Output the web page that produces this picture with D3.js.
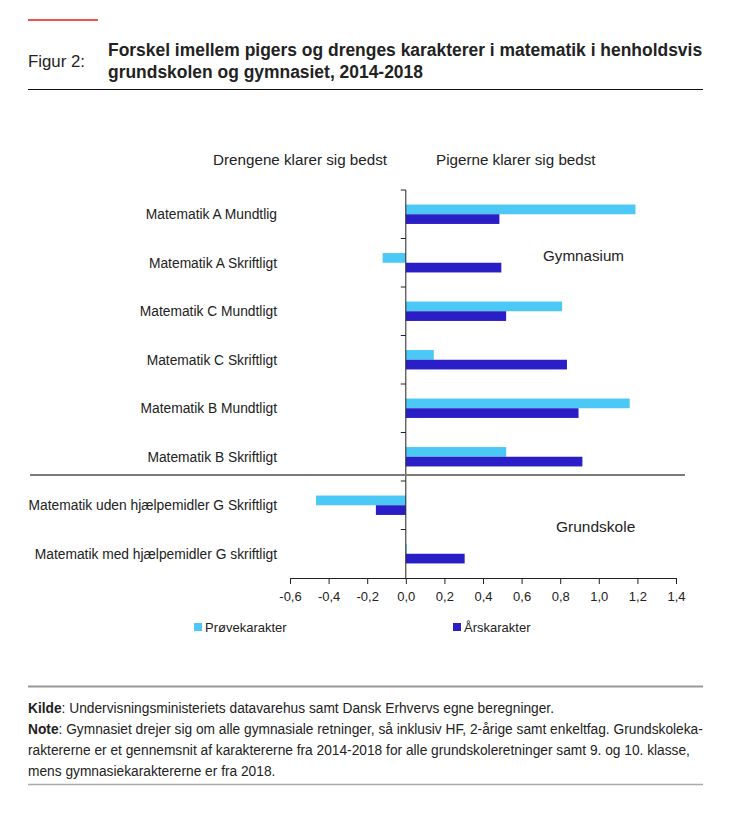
<!DOCTYPE html>
<html>
<head>
<meta charset="utf-8">
<script src="https://cdn.jsdelivr.net/npm/d3@7"></script>
<style>
  body { margin: 0; background: #fff; }
  svg text { font-family: "Liberation Sans", Arial, sans-serif; fill: #222; }
</style>
</head>
<body>
<div id="chart"></div>
<script>
// Data
const categories = [
  "Matematik A Mundtlig",
  "Matematik A Skriftligt",
  "Matematik C Mundtligt",
  "Matematik C Skriftligt",
  "Matematik B Mundtligt",
  "Matematik B Skriftligt",
  "Matematik uden hjælpemidler G Skriftligt",
  "Matematik med hjælpemidler G skriftligt"
];
const provekarakter = [1.19, -0.12, 0.81, 0.145, 1.16, 0.52, -0.465, 0.005];
const aarskarakter  = [0.485, 0.495, 0.52, 0.835, 0.895, 0.915, -0.155, 0.305];
const xTicks = [-0.6, -0.4, -0.2, 0.0, 0.2, 0.4, 0.6, 0.8, 1.0, 1.2, 1.4];
const seriesNames = ["Prøvekarakter", "Årskarakter"];
const colors = ["#4cc8f7", "#2a1ec6"];

const width = 756, height = 813;

const svg = d3.select("#chart").append("svg")
    .attr("width", width)
    .attr("height", height);

// shrink/grow font so a text element spans the wanted width
function fitWidth(sel, target) {
  const node = sel.node();
  const fs = parseFloat(sel.style("font-size"));
  const w = node.getComputedTextLength();
  sel.style("font-size", (fs * target / w).toFixed(2) + "px");
}

// ─── HEADER ────────────────────────────────
svg.append("line")
    .attr("x1", 28).attr("x2", 98).attr("y1", 20).attr("y2", 20)
    .attr("stroke", "#ea5548").attr("stroke-width", 2);

const fig = svg.append("text")
    .attr("x", 28).attr("y", 67)
    .style("font-size", "16px")
    .text("Figur 2:");
fitWidth(fig, 57);

const t1 = svg.append("text")
    .attr("x", 108).attr("y", 56)
    .style("font-size", "16px").style("font-weight", "bold")
    .text("Forskel imellem pigers og drenges karakterer i matematik i henholdsvis");
fitWidth(t1, 595);
svg.append("text")
    .attr("x", 108).attr("y", 78)
    .style("font-size", t1.style("font-size")).style("font-weight", "bold")
    .text("grundskolen og gymnasiet, 2014-2018");

svg.append("line")
    .attr("x1", 28).attr("x2", 703).attr("y1", 89.5).attr("y2", 89.5)
    .attr("stroke", "#111").attr("stroke-width", 1);

// ─── SCALES ────────────────────────────────
const x = d3.scaleLinear().domain([-0.6, 1.4]).range([290, 676]);
const y = d3.scaleBand().domain(categories).range([190, 578]).padding(0);
const bw = y.bandwidth();

const fmt = v => d3.format(".1f")(v).replace("−", "-").replace(".", ",");

// ─── BARS ──────────────────────────────────
const g = svg.append("g");
[provekarakter, aarskarakter].forEach((vals, si) => {
  g.selectAll(".bar" + si)
    .data(categories)
    .enter().append("rect")
    .attr("x", (d, i) => x(Math.min(0, vals[i])))
    .attr("width", (d, i) => Math.abs(x(vals[i]) - x(0)))
    .attr("y", d => y(d) + bw * (0.3 + 0.2 * si))
    .attr("height", bw * 0.2)
    .attr("fill", colors[si]);
});

// ─── AXES ──────────────────────────────────
const xAxis = svg.append("g")
    .attr("transform", "translate(0,578)")
    .call(d3.axisBottom(x).tickValues(xTicks).tickFormat(fmt).tickSize(6).tickSizeOuter(0));
xAxis.select(".domain").attr("stroke", "#222");
xAxis.selectAll(".tick line").attr("stroke", "#222");
xAxis.selectAll("text").style("font-size", "13px").attr("dy", "1.1em").style("fill", "#222");

// y axis line with ticks at band boundaries
svg.append("line")
    .attr("x1", x(0)).attr("x2", x(0)).attr("y1", 190).attr("y2", 578)
    .attr("stroke", "#222");
svg.selectAll(".ytick")
    .data(categories)
    .enter().append("line")
    .attr("x1", x(0) - 5).attr("x2", x(0))
    .attr("y1", d => y(d)).attr("y2", d => y(d))
    .attr("stroke", "#222");

svg.selectAll(".ylab")
    .data(categories)
    .enter().append("text")
    .attr("x", 277)
    .attr("y", d => y(d) + bw / 2 + 5)
    .attr("text-anchor", "end")
    .style("font-size", "13.8px")
    .text(d => d);

// group separator
svg.append("line")
    .attr("x1", 30).attr("x2", 685).attr("y1", 475).attr("y2", 475)
    .attr("stroke", "#7a7a7a").attr("stroke-width", 2);

// annotations
svg.append("text").attr("x", 387).attr("y", 165).attr("text-anchor", "end")
    .style("font-size", "15.2px").text("Drengene klarer sig bedst");
svg.append("text").attr("x", 436).attr("y", 165)
    .style("font-size", "15.2px").text("Pigerne klarer sig bedst");
svg.append("text").attr("x", 543).attr("y", 261)
    .style("font-size", "15.2px").text("Gymnasium");
svg.append("text").attr("x", 556).attr("y", 532)
    .style("font-size", "15.5px").text("Grundskole");

// ─── LEGEND ────────────────────────────────
const legendX = [194, 453];
seriesNames.forEach((name, i) => {
  svg.append("rect")
    .attr("x", legendX[i]).attr("y", 623)
    .attr("width", 8).attr("height", 8)
    .attr("fill", colors[i]);
  svg.append("text")
    .attr("x", legendX[i] + 11).attr("y", 632)
    .style("font-size", "13px")
    .text(name);
});

// ─── FOOTER ────────────────────────────────
svg.append("line")
    .attr("x1", 28).attr("x2", 703).attr("y1", 686.5).attr("y2", 686.5)
    .attr("stroke", "#999").attr("stroke-width", 2);
svg.append("line")
    .attr("x1", 28).attr("x2", 703).attr("y1", 784.5).attr("y2", 784.5)
    .attr("stroke", "#aaa").attr("stroke-width", 1.5);

const footLines = [
  ["Kilde", ": Undervisningsministeriets datavarehus samt Dansk Erhvervs egne beregninger."],
  ["Note", ": Gymnasiet drejer sig om alle gymnasiale retninger, så inklusiv HF, 2-årige samt enkeltfag. Grundskoleka-"],
  ["", "raktererne er et gennemsnit af karaktererne fra 2014-2018 for alle grundskoleretninger samt 9. og 10. klasse,"],
  ["", "mens gymnasiekaraktererne er fra 2018."]
];
const foot = svg.append("g");
footLines.forEach((ln, i) => {
  const t = foot.append("text")
      .attr("x", 28).attr("y", 713 + i * 21)
      .style("font-size", "13px");
  if (ln[0]) t.append("tspan").style("font-weight", "bold").text(ln[0]);
  t.append("tspan").text(ln[1]);
});
// size the footer so the second line reaches the right rule
const noteNode = foot.selectAll("text").nodes()[1];
const fsFoot = 13 * 675 / noteNode.getComputedTextLength();
foot.selectAll("text").style("font-size", fsFoot.toFixed(2) + "px");
</script>
</body>
</html>
